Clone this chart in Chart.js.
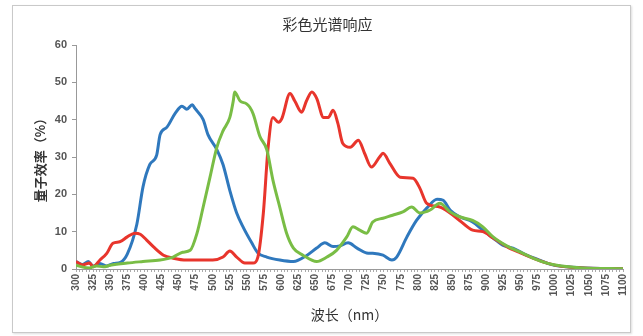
<!DOCTYPE html>
<html><head><meta charset="utf-8">
<script src="https://cdn.jsdelivr.net/npm/chart.js@4.4.1/dist/chart.umd.min.js"></script>
<style>
html,body{margin:0;padding:0;background:#fff;}
#wrap{position:relative;width:643px;height:336px;}
#frame{position:absolute;left:12px;top:5px;width:617px;height:326px;border:1px solid #c9c9c9;box-shadow:1px 1px 2px #ddd;pointer-events:none;}
</style></head><body>
<div id="wrap"><canvas id="c" width="643" height="336"></canvas><div id="frame"></div></div>
<script>
const chartTitle = '彩色光谱响应';
const xTitle = '波长（nm）';
const yTitle = '量子效率（%）';

const blueNm  = [300,310,318,325,335,345,355,365,375,389,398,408,418,423,433,445,455,462,470,474,486,493,506,515,525,535,545,557,566,579,598,618,638,652,664,676,686,698,711,725,734,749,762,769,784,798,813,828,837,847,861,880,895,910,924,939,959,978,997,1018,1056,1100];
const blueVal = [2,1.2,2,0.8,1.5,0.8,1.5,1.8,4,12,22,28,30.5,36,38,41.7,43.6,42.8,44,43,40,36,32,28,21,15,11,7,4.3,3.2,2.4,2,3.7,5.6,7,6,6.2,7,5.6,4.3,4.2,3.7,2.4,3.2,8.6,13,16.3,18.7,18.4,15.8,14,12.6,10.4,8.3,6.4,5.6,3.7,2.4,1.1,0.6,0.2,0.1];

const greenNm  = [300,310,320,330,340,350,375,398,423,442,456,467,477,486,496,506,515,525,530,532,540,549,554,559,569,579,588,598,608,618,632,652,667,681,696,705,715,725,734,749,763,778,791,803,818,832,847,861,880,895,910,930,950,970,990,1010,1040,1100];
const greenVal = [1,0.5,0.3,0.8,0.6,1,1.6,2,2.4,3.2,4.5,5,9.6,16.6,24.6,32.6,37,40.6,45,47.4,45,44.3,43.4,41.6,35.5,32,23.8,16.6,9.6,5.6,3.7,2,3.2,5,8.6,11.3,10.4,9.6,12.6,13.6,14.4,15.3,16.6,15,15.8,17.6,15.3,14,13,11.3,8.6,6.2,4.5,2.8,1.5,0.8,0.3,0.1];

const redNm  = [300,310,320,325,335,345,354,364,375,386,394,403,413,428,442,462,481,500,515,525,535,547,559,566,574,581,588,596,601,613,620,630,637,645,652,662,669,676,683,690,701,713,722,732,744,749,759,774,793,803,813,832,847,861,880,895,910,930,950,970,990,1010,1040,1100];
const redVal = [2,1.1,1.6,0.6,2.4,4.2,6.9,7.3,8.6,9.6,9.3,7.8,6,3.7,2.9,2.4,2.4,2.4,3.2,4.8,3.2,1.6,1.6,3.2,15,32.6,40.6,39.3,40.3,47,45,42,45,47.4,45.7,40.6,40.6,42.5,39,33.7,32.6,34.5,31,27.3,30,31,28.3,24.6,24.3,21.6,17.6,16.6,15,13,10.4,10,8.3,6,4.3,2.8,1.5,0.7,0.3,0.1];

const xMin = 300, xMax = 1100, xLabelStep = 25, xMinorStep = 5;
const yMin = 0, yMax = 60, yStep = 10;

const pts = (xs, ys) => xs.map((x, i) => ({x: x, y: ys[i]}));
const ds = (xs, ys, color) => ({data: pts(xs, ys), borderColor: color, backgroundColor: color, borderWidth: 3, pointRadius: 0, cubicInterpolationMode: 'monotone', fill: false});

new Chart(document.getElementById('c'), {
  type: 'line',
  data: { datasets: [
    ds(greenNm, greenVal, '#79bd45'),
    ds(redNm, redVal, '#e8352c'),
    ds(blueNm, blueVal, '#2f78bd')
  ]},
  options: {
    responsive: false, animation: false,
    layout: { padding: { left: 32, right: 20, top: 0, bottom: 12 } },
    plugins: {
      legend: { display: false }, tooltip: { enabled: false },
      title: { display: true, text: chartTitle, color: '#333', font: { family: '"Noto Sans CJK SC"', size: 15, weight: 'normal' }, padding: { top: 15, bottom: 12 } }
    },
    scales: {
      x: {
        type: 'linear', min: xMin, max: xMax,
        afterFit: s => { s.height = 55; },
        ticks: { stepSize: xMinorStep, autoSkip: false, minRotation: 90, maxRotation: 90, padding: 2,
          color: '#555', font: { family: 'Liberation Sans', size: 10, weight: 'bold' },
          callback: v => (v % xLabelStep === 0 ? String(v) : '') },
        grid: { drawOnChartArea: false, drawTicks: true, tickLength: 3, color: '#aaa' },
        border: { display: true, color: '#999' },
        title: { display: true, text: xTitle, color: '#333', font: { family: '"Noto Sans CJK SC"', size: 14 }, padding: { top: 0, bottom: 1 } }
      },
      y: {
        min: yMin, max: yMax,
        afterFit: s => { s.width = 44; },
        ticks: { stepSize: yStep, color: '#555', padding: 5, font: { family: 'Liberation Sans', size: 11, weight: 'bold' } },
        grid: { drawOnChartArea: false, drawTicks: true, tickLength: 4, color: '#999' },
        border: { display: true, color: '#999' },
        title: { display: true, text: yTitle, color: '#333', font: { family: '"Noto Sans CJK SC"', size: 13, weight: 'bold' }, padding: { top: 0, bottom: 2 } }
      }
    }
  }
});
</script></body></html>
